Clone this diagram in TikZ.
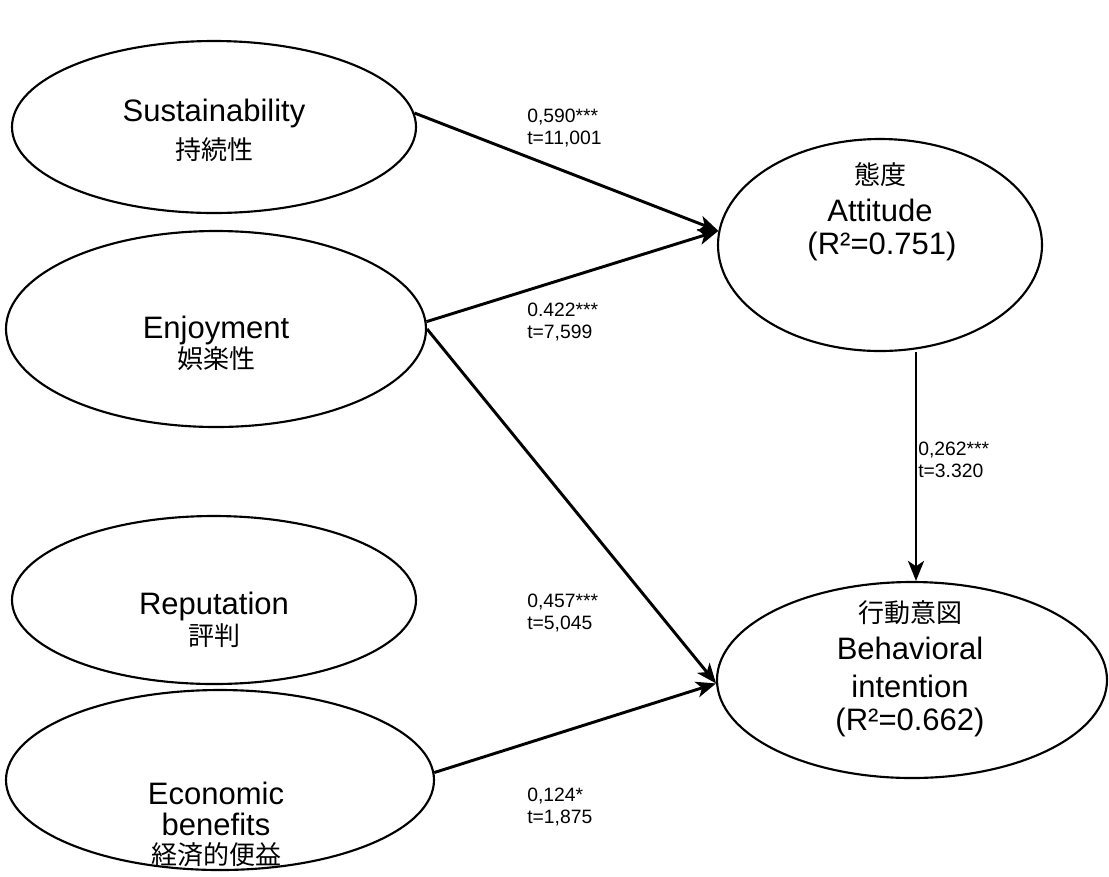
\documentclass[tikz,border=0pt]{standalone}
\usepackage{fontspec}
\setmainfont{Liberation Sans}
\newfontfamily\cjk{Noto Sans CJK JP}
\usetikzlibrary{shapes.geometric,arrows.meta}
\tikzset{
  latent/.style 2 args={ellipse, draw=black, line width=1.6pt, inner sep=0pt,
    minimum width=#1*1.5pt, minimum height=#2*1.5pt},
  ltxt/.style={font=\fontsize{23.25pt}{27pt}\selectfont, inner sep=0pt},
  ctxt/.style={font=\fontsize{19.5pt}{23pt}\selectfont\cjk, inner sep=0pt},
  coef/.style={font=\fontsize{14.5pt}{16.5pt}\selectfont, align=left, anchor=west, inner sep=0pt},
  path/.style={draw=black, line width=2.2pt, -{Stealth[length=15pt,width=12pt,inset=4pt]}},
}
\begin{document}
\begin{tikzpicture}[x=0.75pt,y=-0.75pt]
\useasboundingbox (0,0) rectangle (1109,876);

% exogenous constructs
\node[latent={202}{86}] (sus) at (214,127) {};
\node[latent={210}{98}] (enj) at (216,329) {};
\node[latent={202}{84}] (rep) at (214,600) {};
\node[latent={214}{90}] (eco) at (220,780) {};
% endogenous constructs
\node[latent={162}{106}] (att) at (880,245) {};
\node[latent={195}{98}] (beh) at (912,680) {};

% construct labels
\node[ltxt] (susE) at (214,113) {Sustainability};
\node[ctxt] (susJ) at (214,150) {持続性};
\node[ltxt] (enjE) at (216,330) {Enjoyment};
\node[ctxt] (enjJ) at (216,359) {娯楽性};
\node[ltxt] (repE) at (214,606) {Reputation};
\node[ctxt] (repJ) at (214,636) {評判};
\node[ltxt] (ecoE) at (216,793) {Economic};
\node[ltxt] (ecoF) at (216,824) {benefits};
\node[ctxt] (ecoJ) at (216,855) {経済的便益};
\node[ctxt] (attJ) at (880,175) {態度};
\node[ltxt] (attE) at (880,210) {Attitude};
\node[ltxt] (attR) at (882,246) {(R²=0.751)};
\node[ctxt] (behJ) at (910,613) {行動意図};
\node[ltxt] (behE) at (910,648) {Behavioral};
\node[ltxt] (behF) at (910,686) {intention};
\node[ltxt] (behR) at (910,722) {(R²=0.662)};

% structural paths
\coordinate (vx) at (916,0);
\draw[path] (sus.4) -- (att.175.4);
\draw[path] (enj.2) -- (att.175.4);
\draw[path] (enj.east) -- (beh.181.8);
\draw[path] (eco.2.5) -- (beh.181.8);
\draw[path] (att.south -| vx) -- (beh.north -| vx);

% path coefficients
\node[coef] (c1) at (527,128) {0,590***\\t=11,001};
\node[coef] (c2) at (527,322) {0.422***\\t=7,599};
\node[coef] (c3) at (918,460) {0,262***\\t=3.320};
\node[coef] (c4) at (527,613) {0,457***\\t=5,045};
\node[coef] (c5) at (527,807) {0,124*\\t=1,875};
\end{tikzpicture}
\end{document}
